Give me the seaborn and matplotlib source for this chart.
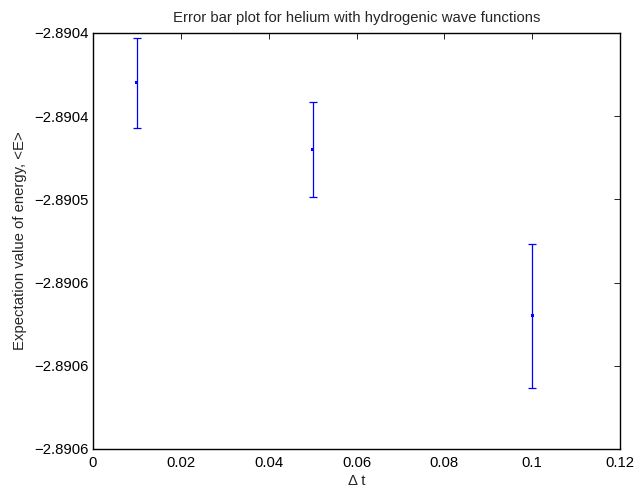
import matplotlib
matplotlib.use("Agg")
import matplotlib.pyplot as plt
import seaborn as sns
import pandas as pd

# Data
dt = [0.01, 0.05, 0.10]
energy = [-2.89043, -2.89047, -2.89057]
err = [0.0000272, 0.0000288, 0.0000432]

xticks = [0, 0.02, 0.04, 0.06, 0.08, 0.1, 0.12]
xticklabels = ["0", "0.02", "0.04", "0.06", "0.08", "0.1", "0.12"]
yticks = [-2.8904, -2.89045, -2.8905, -2.89055, -2.8906, -2.89065]
yticklabels = ["\u22122.8904", "\u22122.8904", "\u22122.8905", "\u22122.8906", "\u22122.8906", "\u22122.8906"]

title = "Error bar plot for helium with hydrogenic wave functions"
xlabel = "\u0394 t"
ylabel = "Expectation value of energy, <E>"

FS = 10.7

sns.set_style("white")
plt.rcParams["font.family"] = ["Liberation Sans", "DejaVu Sans"]
plt.rcParams["font.size"] = FS

df = pd.DataFrame({"dt": dt, "E": energy, "err": err})

fig = plt.figure(figsize=(6.37, 4.91), dpi=100)
ax = fig.add_axes([93 / 637, 1 - 449 / 491, (620 - 93) / 637, (449 - 33) / 491])

ax.errorbar(df["dt"], df["E"], yerr=df["err"], fmt="none", ecolor="#0000ff",
            elinewidth=0.9, capsize=2.9, capthick=0.9)
sns.scatterplot(data=df, x="dt", y="E", ax=ax, color="#0000ff", s=5,
                marker="s", edgecolor="none", zorder=3)

ax.set_xlim(0, 0.12)
ax.set_ylim(-2.89065, -2.8904)
ax.set_xticks(xticks)
ax.set_xticklabels(xticklabels)
ax.set_yticks(yticks)
ax.set_yticklabels(yticklabels)

ax.tick_params(direction="in", length=4, width=0.6, top=True, right=True,
               labelsize=FS, colors="black")
ax.tick_params(axis="x", pad=5)
ax.tick_params(axis="y", pad=3.5)
for s in ax.spines.values():
    s.set_visible(True)
    s.set_color("black")
    s.set_linewidth(1.0)

ax.set_title(title, fontsize=FS, pad=8)
ax.set_xlabel(xlabel, fontsize=FS, labelpad=3)
ax.set_ylabel(ylabel, fontsize=FS, labelpad=5)

fig.savefig("out.png", dpi=100)
